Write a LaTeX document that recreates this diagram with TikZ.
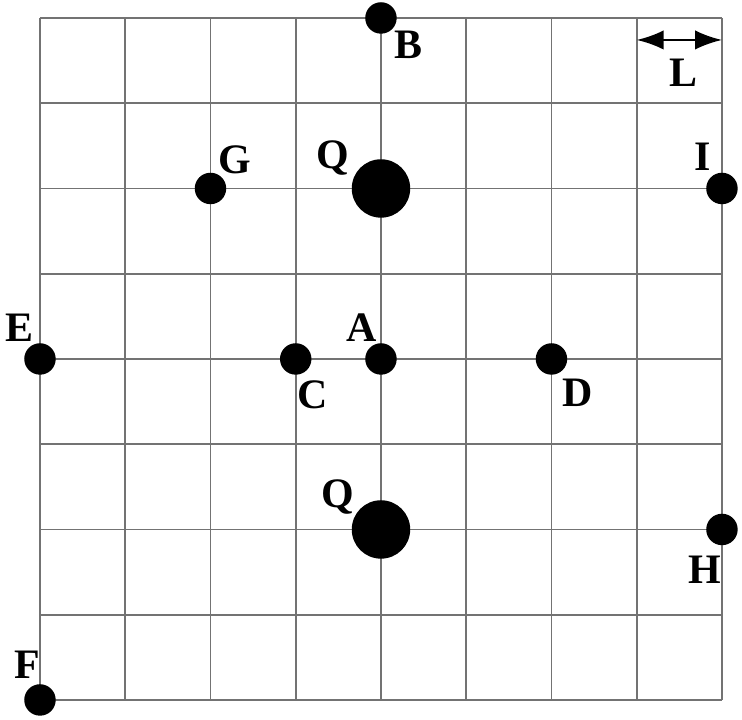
\documentclass[tikz,border=0pt]{standalone}
\usepackage{fontspec}
\setmainfont{Liberation Serif}
\usetikzlibrary{arrows.meta}
\begin{document}
\begin{tikzpicture}[
	% Define the styles for the grid, the charges and the labels
	gridline/.style={draw=black!55, line width=0.6pt},
	dot/.style={circle, fill=black, inner sep=0pt, minimum size=10.5pt},
	bigdot/.style={circle, fill=black, inner sep=0pt, minimum size=19.5pt},
	lbl/.style={inner sep=0pt, font=\fontsize{14}{16}\selectfont\bfseries}
	]
	
	\useasboundingbox (-0.469,-0.235) rectangle (8.235,8.211);
	
	% --- GRID ---
	\draw[gridline] (0,0) grid (8,8);
	
	% --- POINTS ---
	% Format: \node[style] (name) at (x,y) {};
	
	\node[dot] (B) at (4,8) {};
	\node[dot] (G) at (2,6) {};
	\node[dot] (I) at (8,6) {};
	\node[dot] (E) at (0,4) {};
	\node[dot] (C) at (3,4) {};
	\node[dot] (A) at (4,4) {};
	\node[dot] (D) at (6,4) {};
	\node[dot] (H) at (8,2) {};
	\node[dot] (F) at (0,0) {};
	
	% the two charges
	\node[bigdot] (Q1) at (4,6) {};
	\node[bigdot] (Q2) at (4,2) {};
	
	% --- LABELS ---
	\node[lbl] (lB) at (4.317,7.683) {B};
	\node[lbl] (lG) at (2.287,6.334) {G};
	\node[lbl] (lQ1) at (3.437,6.358) {Q};
	\node[lbl] (lI) at (7.777,6.370) {I};
	\node[lbl] (lE) at (-0.235,4.364) {E};
	\node[lbl] (lC) at (3.202,3.578) {C};
	\node[lbl] (lA) at (3.777,4.364) {A};
	\node[lbl] (lD) at (6.311,3.601) {D};
	\node[lbl] (lQ2) at (3.496,2.381) {Q};
	\node[lbl] (lH) at (7.801,1.525) {H};
	\node[lbl] (lF) at (-0.152,0.411) {F};
	
	% --- CELL SIZE ---
	\coordinate (L0) at (7,7.742);
	\coordinate (L1) at (8,7.742);
	\draw[{Latex[length=9pt,width=6.5pt]}-{Latex[length=9pt,width=6.5pt]}, line width=0.8pt] (L0) -- (L1);
	\node[lbl] (lL) at (7.543,7.355) {L};
	
\end{tikzpicture}
\end{document}
